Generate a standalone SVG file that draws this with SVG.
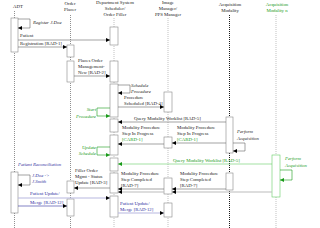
<svg xmlns="http://www.w3.org/2000/svg" width="320" height="228" viewBox="0 0 320 228">
<defs>
<marker id="ak" markerWidth="4" markerHeight="4" refX="4" refY="2" orient="auto" markerUnits="userSpaceOnUse"><path d="M0,0 L4,2 L0,4z" fill="#000"/></marker>
<marker id="ag" markerWidth="4" markerHeight="4" refX="4" refY="2" orient="auto" markerUnits="userSpaceOnUse"><path d="M0,0 L4,2 L0,4z" fill="#1a9a1a"/></marker>
</defs>
<style>
text{font-family:"Liberation Serif","Times New Roman",serif;font-size:4.8px;fill:#222}
.h{text-anchor:middle}
.i{font-style:italic}
.g{fill:#1a9a1a}
.b{fill:#3030a0}
.r{text-anchor:end}
.ll{stroke:#444;stroke-width:0.6;stroke-dasharray:1,1;fill:none}
.llg{stroke:#999;stroke-width:0.6;stroke-dasharray:1,1;fill:none}
.box{fill:#fff;stroke:#888;stroke-width:0.6}
.m{stroke:#666;stroke-width:0.6;fill:none;marker-end:url(#ak)}
.mg{stroke:#1a9a1a;stroke-width:0.6;fill:none;marker-end:url(#ag)}
.mgl{stroke:#6c6;stroke-width:0.6;fill:none;marker-end:url(#ag)}
.mb{stroke:#3030a0;stroke-width:0.6;fill:none;marker-end:url(#ak)}
.mv{stroke:#b8b8e0;stroke-width:1.2;fill:none;marker-end:url(#ak)}
.mgr{stroke:#bbb;stroke-width:1.2;fill:none;marker-end:url(#ak)}
</style>
<rect width="320" height="228" fill="#fff"/>
<g id="lifelines">
<line class="ll" x1="14.5" y1="11" x2="14.5" y2="228"/>
<line class="ll" x1="70.5" y1="15" x2="70.5" y2="228"/>
<line class="llg" x1="114" y1="18" x2="114" y2="228"/>
<line class="llg" x1="168" y1="18" x2="168" y2="228"/>
<line class="ll" x1="229.5" y1="15" x2="229.5" y2="228" style="stroke-width:0.9;stroke:#000"/>
<line class="llg" x1="276" y1="15" x2="276" y2="228"/>
</g>
<g id="adt">
<text class="h" x="18" y="8">ADT</text>
<rect class="box" x="11" y="18" width="7" height="34"/>
<rect class="box" x="11" y="172" width="7" height="41"/>
</g>
<g id="order-placer">
<text class="h" x="70" y="5">Order</text>
<text class="h" x="70" y="11">Placer</text>
<rect class="box" x="67" y="45" width="7" height="12"/>
<rect class="box" x="67" y="61" width="7" height="21"/>
<rect class="box" x="67" y="181" width="7" height="12"/>
<rect class="box" x="67" y="199" width="7" height="17"/>
</g>
<g id="dept-system">
<text class="h" x="115" y="4">Department System</text>
<text class="h" x="115" y="10">Scheduler/</text>
<text class="h" x="115" y="16">Order Filler</text>
<rect class="box" x="110" y="27" width="8" height="18"/>
<rect class="box" x="110" y="61" width="8" height="21"/>
<rect class="box" x="110" y="84" width="8" height="33"/>
<rect class="box" x="110" y="119" width="8" height="13"/>
<rect class="box" x="110" y="135" width="8" height="20"/>
<rect class="box" x="110" y="158" width="8" height="13"/>
<rect class="box" x="110" y="173" width="8" height="20"/>
<rect class="box" x="110" y="196" width="8" height="21"/>
</g>
<g id="image-manager">
<text class="h" x="168" y="4">Image</text>
<text class="h" x="168" y="10">Manager/</text>
<text class="h" x="168" y="16">PPS Manager</text>
<rect class="box" x="164" y="92" width="8" height="20"/>
<rect class="box" x="164" y="137" width="8" height="11"/>
<rect class="box" x="164" y="178" width="8" height="16"/>
<rect class="box" x="164" y="203" width="8" height="14"/>
</g>
<g id="acq-modality">
<text class="h" x="230" y="6">Acquisition</text>
<text class="h" x="230" y="12">Modality</text>
<rect class="box" x="226" y="117" width="7" height="36"/>
<rect class="box" x="226" y="173" width="7" height="17"/>
</g>
<g id="acq-modality-n">
<text class="h g" x="277" y="6">Acquisition</text>
<text class="h g" x="277" y="12">Modality n</text>
<rect class="box" x="272" y="155" width="8" height="42" style="stroke:#6c6"/>
</g>
<g id="connectors">
<polyline class="m" points="18,19 30,19 30,28 18,28"/>
<text class="i" x="33" y="24">Register J.Doe</text>
<text x="20" y="37">Patient</text>
<line class="m" x1="18" y1="40" x2="110" y2="40"/>
<text x="20" y="45">Registration [RAD-1]</text>
<line class="m" x1="18" y1="47" x2="67" y2="47"/>
<text x="78" y="62">Places Order</text>
<text x="78" y="68">Management-</text>
<text x="78" y="74">New [RAD-2]</text>
<line class="m" x1="74" y1="76" x2="110" y2="76"/>
<polyline class="m" points="118,85 130,85 130,93 118,93"/>
<text class="i" x="131" y="87">Schedule</text>
<text class="i" x="131" y="93">Procedure</text>
<text x="124" y="99">Procedure</text>
<text x="124" y="105">Scheduled [RAD-4]</text>
<line class="m" x1="118" y1="107" x2="164" y2="107"/>
<polyline class="mg" points="110,108 97,108 97,116 110,116"/>
<text class="i g r" x="96" y="111">Start</text>
<text class="i g r" x="96" y="118">Procedure</text>
<text x="134" y="120">Query Modality Worklist [RAD-5]</text>
<line class="m" x1="226" y1="122" x2="118" y2="122"/>
<text x="122" y="129">Modality Procedure</text>
<text x="122" y="135">Step In Progress</text>
<text class="g" x="122" y="141">[CARD-1]</text>
<line class="m" x1="164" y1="144" x2="118" y2="144"/>
<text x="177" y="129">Modality Procedure</text>
<text x="177" y="135">Step In Progress</text>
<text class="g" x="177" y="141">[CARD-1]</text>
<line class="m" x1="226" y1="143" x2="172" y2="143"/>
<polyline class="m" points="233,143 245,143 245,151 233,151"/>
<text class="i" x="237" y="133">Perform</text>
<text class="i" x="237" y="140">Acquisition</text>
<polyline class="mg" points="110,147 97,147 97,155 110,155"/>
<text class="i g r" x="96" y="149">Update</text>
<text class="i g r" x="96" y="155">Schedule</text>
<text class="g" x="173" y="162">Query Modality Worklist [RAD-5]</text>
<line class="mgl" x1="272" y1="164" x2="118" y2="164"/>
<polyline class="mg" points="280,170 292,170 292,180 280,180"/>
<text class="i g" x="285" y="160">Perform</text>
<text class="i g" x="285" y="167">Acquisition</text>
<text x="121" y="175">Modality Procedure</text>
<text x="121" y="181">Step Completed</text>
<text x="121" y="187">[RAD-7]</text>
<line class="m" x1="164" y1="189" x2="118" y2="189"/>
<line class="mgr" x1="164" y1="192" x2="118" y2="192"/>
<text x="180" y="175">Modality Procedure</text>
<text x="180" y="181">Step Completed</text>
<text x="180" y="187">[RAD-7]</text>
<line class="m" x1="226" y1="189" x2="172" y2="189"/>
<line class="mgr" x1="272" y1="192" x2="172" y2="192"/>
<text x="75" y="172">Filler Order</text>
<text x="75" y="178">Mgmt - Status</text>
<text x="75" y="184">Update [RAD-3]</text>
<line class="m" x1="110" y1="188" x2="74" y2="188"/>
<text class="i b" x="18" y="166">Patient Reconciliation</text>
<polyline class="m" points="18,175 30,175 30,185 18,185"/>
<text class="i b" x="32" y="177">J.Doe -&gt;</text>
<text class="i b" x="32" y="183">J.Smith</text>
<text class="b" x="30" y="195">Patient Update/</text>
<line class="mv" x1="18" y1="198" x2="110" y2="198"/>
<text class="b" x="30" y="204">Merge [RAD-12]</text>
<line class="mb" x1="18" y1="206" x2="67" y2="206"/>
<text class="b" x="120" y="205">Patient Update/</text>
<text class="b" x="120" y="211">Merge  [RAD-12]</text>
<line class="mv" x1="118" y1="213" x2="164" y2="213"/>
</g>
</svg>
